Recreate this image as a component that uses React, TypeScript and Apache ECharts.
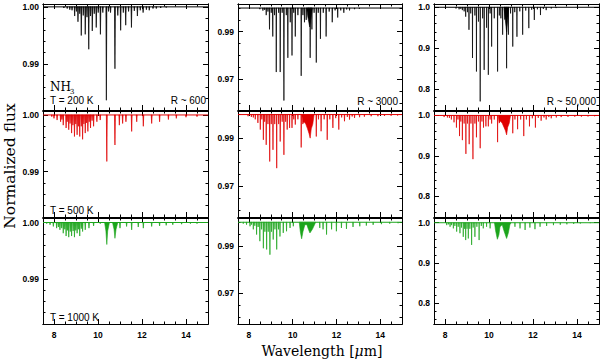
import { useEffect, useRef } from "react";
import * as echarts from "echarts";

// ---------- axis values ----------
const xRange = [7.5, 15];
const xMajorTicks = [8, 10, 12, 14];
const xMinorTicks = [8.5, 9, 9.5, 10.5, 11, 11.5, 12.5, 13, 13.5, 14.5];

const yMinByCol = [0.982, 0.957, 0.749];
const yMaxByPanel = [
  [1.0005, 1.0017, 1.008],
  [1.0007, 1.0015, 1.011],
  [1.0008, 1.0018, 1.0117],
];
const yMajorCol1 = [0.99, 1.0];
const yMinorCol1 = [0.982, 0.984, 0.986, 0.988, 0.992, 0.994, 0.996, 0.998];
const yMajorCol2 = [0.97, 0.99];
const yMinorCol2 = [0.96, 0.965, 0.975, 0.98, 0.985, 0.995, 1.0];
const yMajorCol3 = [0.8, 0.9, 1.0];
const yMinorCol3 = [0.76, 0.78, 0.82, 0.84, 0.86, 0.88, 0.92, 0.94, 0.96, 0.98];
const yDecimals = [2, 2, 1];

const continuum = [[7.5, 1], [15, 1]];

// ---------- absorption lines: [wavelength (um), depth] ----------
const black600 = [[8.45,0.0002],[8.6,0.0003],[8.72,0.0005],[8.82,0.0006],[8.94,0.0016],[9.02,0.0008],[9.09,0.0026],[9.17,0.0012],[9.24,0.005],[9.33,0.0015],[9.42,0.0048],[9.5,0.0018],[9.58,0.0074],[9.66,0.0016],[9.74,0.0042],[9.83,0.0012],[9.92,0.0036],[10.01,0.001],[10.11,0.0048],[10.22,0.001],[10.38,0.0163],[10.48,0.0008],[10.57,0.001],[10.77,0.0108],[10.9,0.0015],[11.03,0.0041],[11.15,0.001],[11.26,0.0032],[11.39,0.0008],[11.52,0.0036],[11.65,0.0007],[11.79,0.0016],[11.92,0.0006],[12.05,0.001],[12.2,0.0005],[12.33,0.0006],[12.5,0.0003],[12.65,0.0003],[12.85,0.0002],[13.1,0.0001]];
const black3000 = [[8.5,0.0005],[8.64,0.0011],[8.72,0.0008],[8.79,0.003],[8.87,0.0015],[8.94,0.009],[9.02,0.002],[9.09,0.012],[9.17,0.003],[9.25,0.027],[9.36,0.002],[9.43,0.027],[9.52,0.002],[9.6,0.039],[9.71,0.003],[9.78,0.021],[9.89,0.006],[9.97,0.02],[10.05,0.002],[10.12,0.012],[10.24,0.003],[10.39,0.0286],[10.47,0.003],[10.54,0.006],[10.62,0.005],[10.72,0.004],[10.8,0.021],[10.88,0.009],[10.98,0.002],[11.08,0.023],[11.17,0.002],[11.27,0.013],[11.4,0.002],[11.53,0.012],[11.67,0.0015],[11.81,0.006],[11.94,0.001],[12.06,0.004],[12.2,0.001],[12.34,0.002],[12.47,0.0006],[12.6,0.001],[12.83,0.0005],[13.05,0.0003]];
const black50000 = [[8.5,0.003],[8.64,0.005],[8.72,0.004],[8.79,0.007],[8.87,0.01],[8.94,0.023],[9.02,0.012],[9.09,0.055],[9.17,0.015],[9.25,0.124],[9.36,0.02],[9.43,0.157],[9.52,0.035],[9.6,0.23],[9.71,0.027],[9.78,0.153],[9.89,0.05],[9.97,0.165],[10.05,0.015],[10.12,0.096],[10.24,0.027],[10.39,0.157],[10.47,0.02],[10.54,0.027],[10.62,0.067],[10.72,0.03],[10.8,0.149],[10.88,0.067],[10.98,0.015],[11.08,0.096],[11.17,0.012],[11.27,0.072],[11.4,0.01],[11.53,0.067],[11.67,0.008],[11.81,0.051],[11.94,0.006],[12.06,0.031],[12.2,0.005],[12.34,0.019],[12.47,0.004],[12.6,0.007],[12.83,0.003],[13.05,0.002]];

const red600 = [[7.9,0.0003],[8.0,0.0006],[8.14,0.0009],[8.3,0.0012],[8.36,0.0008],[8.42,0.0018],[8.55,0.0023],[8.6,0.0012],[8.67,0.0026],[8.73,0.0015],[8.8,0.0032],[8.86,0.0018],[8.93,0.0038],[8.99,0.0016],[9.05,0.0035],[9.11,0.002],[9.17,0.0038],[9.24,0.002],[9.3,0.0043],[9.36,0.0016],[9.42,0.0032],[9.48,0.0014],[9.54,0.0029],[9.6,0.0012],[9.66,0.0023],[9.73,0.001],[9.8,0.002],[9.95,0.0012],[10.1,0.0009],[10.4,0.0082],[10.77,0.0053],[10.97,0.0018],[11.12,0.0015],[11.27,0.0012],[11.53,0.0029],[11.76,0.0012],[12.06,0.002],[12.44,0.0015],[12.8,0.0012],[13.2,0.0008],[13.56,0.0006],[14.0,0.0004],[14.5,0.0003]];
const red3000 = [[7.96,0.0007],[8.11,0.001],[8.2,0.0012],[8.29,0.002],[8.41,0.0035],[8.52,0.0063],[8.59,0.002],[8.66,0.0106],[8.72,0.003],[8.79,0.0127],[8.87,0.004],[8.95,0.0197],[9.02,0.004],[9.1,0.0148],[9.18,0.004],[9.27,0.0225],[9.36,0.004],[9.43,0.0113],[9.52,0.003],[9.6,0.0169],[9.68,0.003],[9.75,0.0063],[9.86,0.0056],[9.97,0.0056],[10.05,0.002],[10.12,0.0042],[10.24,0.002],[10.39,0.0138],[11.08,0.0092],[11.18,0.002],[11.3,0.007],[11.44,0.002],[11.58,0.0106],[11.7,0.002],[11.84,0.0056],[11.97,0.0015],[12.11,0.0063],[12.24,0.0012],[12.37,0.0028],[12.5,0.001],[12.6,0.0021],[12.72,0.0008],[12.83,0.0014],[13.06,0.0011],[13.28,0.0009],[13.59,0.0007],[13.9,0.0007],[14.2,0.0006],[14.5,0.0005],[14.8,0.0004]];
const red50000 = [[7.96,0.004],[8.11,0.005],[8.2,0.006],[8.29,0.01],[8.41,0.017],[8.52,0.03],[8.59,0.01],[8.66,0.051],[8.72,0.015],[8.79,0.061],[8.87,0.02],[8.95,0.095],[9.02,0.02],[9.1,0.071],[9.18,0.02],[9.27,0.108],[9.36,0.02],[9.43,0.054],[9.52,0.015],[9.6,0.081],[9.68,0.015],[9.75,0.03],[9.86,0.027],[9.97,0.027],[10.05,0.01],[10.12,0.02],[10.24,0.01],[10.39,0.066],[11.08,0.044],[11.18,0.01],[11.3,0.034],[11.44,0.01],[11.58,0.051],[11.7,0.01],[11.84,0.027],[11.97,0.007],[12.11,0.03],[12.24,0.006],[12.37,0.013],[12.5,0.005],[12.6,0.01],[12.72,0.004],[12.83,0.007],[13.06,0.005],[13.28,0.004],[13.59,0.0035],[13.9,0.003],[14.2,0.003],[14.5,0.0025],[14.8,0.002]];

const green600 = [[7.67,0.0002],[7.82,0.0004],[7.97,0.0007],[8.12,0.001],[8.2,0.0008],[8.27,0.0013],[8.35,0.001],[8.42,0.0019],[8.49,0.0012],[8.55,0.0024],[8.61,0.0014],[8.67,0.0026],[8.74,0.0016],[8.8,0.0024],[8.87,0.0015],[8.93,0.0026],[8.99,0.0014],[9.05,0.0019],[9.11,0.0012],[9.17,0.0024],[9.24,0.0011],[9.3,0.0016],[9.42,0.0013],[9.59,0.001],[9.8,0.0006],[10.1,0.0002],[11.0,0.001],[11.3,0.0007],[11.53,0.0013],[11.83,0.0008],[12.06,0.001],[12.44,0.0007],[12.8,0.0006],[13.1,0.0005],[13.4,0.0004],[13.8,0.0003],[14.2,0.0002],[14.5,0.0002]];
const green3000 = [[7.74,0.0006],[7.89,0.001],[8.05,0.0017],[8.12,0.001],[8.2,0.003],[8.27,0.0015],[8.35,0.0052],[8.42,0.002],[8.5,0.008],[8.58,0.003],[8.66,0.011],[8.73,0.004],[8.81,0.0115],[8.88,0.004],[8.96,0.0137],[9.03,0.004],[9.11,0.0073],[9.19,0.003],[9.27,0.0115],[9.35,0.003],[9.42,0.006],[9.57,0.0045],[9.72,0.0038],[9.88,0.0024],[10.03,0.0017],[11.24,0.0024],[11.39,0.003],[11.55,0.0052],[11.78,0.003],[12.0,0.0038],[12.23,0.0024],[12.46,0.0028],[12.76,0.002],[13.07,0.0017],[13.37,0.0014],[13.68,0.0011],[14.06,0.0008],[14.44,0.0006],[14.82,0.0004]];
const green50000 = [[8.08,0.006],[8.16,0.004],[8.23,0.01],[8.3,0.006],[8.38,0.014],[8.45,0.008],[8.53,0.022],[8.6,0.01],[8.68,0.026],[8.75,0.012],[8.83,0.035],[8.89,0.015],[8.94,0.043],[9.0,0.015],[9.06,0.039],[9.13,0.015],[9.21,0.055],[9.28,0.012],[9.36,0.035],[9.45,0.01],[9.55,0.043],[9.65,0.008],[9.74,0.014],[9.89,0.01],[10.05,0.014],[11.18,0.01],[11.41,0.014],[11.64,0.018],[11.86,0.012],[12.09,0.016],[12.32,0.01],[12.62,0.008],[12.93,0.006],[13.24,0.005],[13.54,0.004],[13.85,0.003],[14.15,0.002],[14.6,0.001]];

// ---------- Q-branch blended envelopes: [wavelength, depth] ----------
const blackBand600: number[][] = [];
const blackBand3000 = [[10.64,0],[10.7,0.004],[10.78,0.008],[10.84,0.004],[10.9,0]];
const blackBand50000 = [[10.68,0],[10.74,0.03],[10.8,0.06],[10.85,0.03],[10.9,0]];
const redBand600: number[][] = [];
const redBand3000 = [[10.42,0],[10.46,0.004],[10.52,0.003],[10.6,0.004],[10.68,0.006],[10.75,0.008],[10.8,0.0099],[10.85,0.006],[10.92,0.004],[10.98,0]];
const redBand50000 = [[10.42,0],[10.46,0.019],[10.52,0.014],[10.6,0.019],[10.68,0.029],[10.75,0.038],[10.8,0.048],[10.85,0.029],[10.92,0.019],[10.98,0]];
const greenBand600 = [[10.3,0],[10.36,0.0015],[10.4,0.0039],[10.44,0.0015],[10.52,0],[10.66,0],[10.73,0.0012],[10.77,0.0028],[10.82,0.0012],[10.9,0]];
const greenBand3000 = [[10.3,0],[10.35,0.004],[10.41,0.007],[10.47,0.004],[10.56,0.001],[10.65,0.001],[10.72,0.003],[10.79,0.0045],[10.9,0.003],[11.0,0.001],[11.05,0]];
const greenBand50000 = [[10.25,0],[10.3,0.02],[10.38,0.041],[10.45,0.03],[10.5,0.01],[10.6,0.005],[10.68,0.02],[10.8,0.039],[10.88,0.025],[10.95,0.005],[11.0,0]];

const panelLines = [
  [black600, black3000, black50000],
  [red600, red3000, red50000],
  [green600, green3000, green50000],
];
const panelBands = [
  [blackBand600, blackBand3000, blackBand50000],
  [redBand600, redBand3000, redBand50000],
  [greenBand600, greenBand3000, greenBand50000],
];

// ---------- styling ----------
const rowColors = ["#000000", "#e00000", "#1ca51c"];
const colLeft = [43, 238, 434];
const colWidth = [165, 164, 165];
const rowTop = [4, 111, 218];
const rowHeight = 106;
const spikeHalfWidth = [0.02, 0.012, 0.006];
const tickFont = "Liberation Sans, Arial, sans-serif";
const serif = "DejaVu Serif, serif";

function buildOption() {
  const grid: any[] = [];
  const xAxis: any[] = [];
  const yAxis: any[] = [];
  const series: any[] = [];

  for (let r = 0; r < 3; r++) {
    for (let c = 0; c < 3; c++) {
      const g = r * 3 + c;
      grid.push({ left: colLeft[c], top: rowTop[r], width: colWidth[c], height: rowHeight, containLabel: false });
      const yMin = yMinByCol[c];
      const yMax = yMaxByPanel[r][c];
      const yMajor = [yMajorCol1, yMajorCol2, yMajorCol3][c];
      const yMinor = [yMinorCol1, yMinorCol2, yMinorCol3][c];
      const dec = yDecimals[c];
      const line = { show: true, onZero: false, lineStyle: { color: "#000", width: 1 } };

      const mkX = (pos: string, ticks: number[], len: number, labels: boolean) => ({
        type: "value", gridIndex: g, position: pos, min: xRange[0], max: xRange[1],
        axisLine: line, splitLine: { show: false },
        axisTick: { show: true, inside: true, length: len, customValues: ticks, lineStyle: { color: "#000", width: 1 } },
        axisLabel: labels
          ? { show: true, customValues: ticks, margin: 6, fontSize: 8.5, fontWeight: "bold", color: "#000", fontFamily: tickFont, formatter: (v: number) => String(v) }
          : { show: false },
      });
      xAxis.push(mkX("bottom", xMajorTicks, 5, r === 2));
      xAxis.push(mkX("bottom", xMinorTicks, 2.5, false));
      xAxis.push(mkX("top", xMajorTicks, 5, false));
      xAxis.push(mkX("top", xMinorTicks, 2.5, false));

      const mkY = (pos: string, ticks: number[], len: number, labels: boolean) => ({
        type: "value", gridIndex: g, position: pos, min: yMin, max: yMax, scale: true,
        axisLine: line, splitLine: { show: false },
        axisTick: { show: true, inside: true, length: len, customValues: ticks, lineStyle: { color: "#000", width: 1 } },
        axisLabel: labels
          ? { show: true, customValues: ticks, margin: 4, fontSize: 8.5, fontWeight: "bold", color: "#000", fontFamily: tickFont, formatter: (v: number) => v.toFixed(dec) }
          : { show: false },
      });
      yAxis.push(mkY("left", yMajor, 5, true));
      yAxis.push(mkY("left", yMinor, 2.5, false));
      yAxis.push(mkY("right", yMajor, 5, false));
      yAxis.push(mkY("right", yMinor, 2.5, false));

      const color = rowColors[r];
      const hw = spikeHalfWidth[c];
      const band = panelBands[r][c];

      if (band.length) {
        series.push({
          type: "custom", xAxisIndex: g * 4, yAxisIndex: g * 4, clip: true, silent: true,
          data: band,
          renderItem: (params: any, api: any) => {
            if (params.dataIndex !== 0) return null;
            const pts = band.map((p) => api.coord([p[0], 1 - p[1]]));
            return { type: "polygon", shape: { points: pts }, style: { fill: color, stroke: color, lineWidth: 0.6 } };
          },
        });
      }

      series.push({
        type: "custom", xAxisIndex: g * 4, yAxisIndex: g * 4, clip: true, silent: true,
        data: panelLines[r][c],
        renderItem: (_params: any, api: any) => {
          const w = api.value(0);
          const d = api.value(1);
          const a = api.coord([w - hw, 1]);
          const b = api.coord([w, 1 - d]);
          const e = api.coord([w + hw, 1]);
          return { type: "polygon", shape: { points: [a, b, e] }, style: { fill: color, stroke: color, lineWidth: 0.7 } };
        },
      });

      series.push({
        type: "line", xAxisIndex: g * 4, yAxisIndex: g * 4, data: continuum, symbol: "none", silent: true,
        lineStyle: { color, width: 1 },
      });
    }
  }

  const annFont = "Liberation Sans, Arial, sans-serif";
  const txt = (x: number, y: number, text: string, align: string) => ({
    type: "text", x, y, silent: true,
    style: { text, fill: "#000", fontFamily: annFont, fontSize: 10, align, verticalAlign: "middle" },
  });

  const graphic = [
    { type: "text", x: 50, y: 87, silent: true, style: { text: "NH", fill: "#000", fontFamily: serif, fontSize: 12, align: "left", verticalAlign: "middle" } },
    { type: "text", x: 70, y: 91.5, silent: true, style: { text: "3", fill: "#000", fontFamily: serif, fontSize: 7, align: "left", verticalAlign: "middle" } },
    txt(50, 100.5, "T = 200 K", "left"),
    txt(206, 100.5, "R ~ 600", "right"),
    txt(398, 101, "R ~ 3000", "right"),
    txt(596, 101, "R ~ 50,000", "right"),
    txt(50, 210, "T = 500 K", "left"),
    txt(50, 317, "T = 1000 K", "left"),
    {
      type: "text", x: 10, y: 166, rotation: Math.PI / 2, silent: true,
      style: { text: "Normalized flux", fill: "#000", fontFamily: serif, fontSize: 15.5, align: "center", verticalAlign: "middle" },
    },
    {
      type: "text", x: 322, y: 351, silent: true,
      style: {
        text: "{n|Wavelength [}{i|\u03bc}{n|m]}",
        fill: "#000", fontFamily: serif, fontSize: 14, align: "center", verticalAlign: "middle",
        rich: {
          n: { fontFamily: serif, fontSize: 14, fill: "#000" },
          i: { fontFamily: serif, fontSize: 14, fontStyle: "italic", fill: "#000" },
        },
      },
    },
  ];

  return { animation: false, backgroundColor: "#ffffff", grid, xAxis, yAxis, series, graphic };
}

export default function App() {
  const ref = useRef<HTMLDivElement>(null);
  useEffect(() => {
    if (!ref.current) return;
    const chart = echarts.init(ref.current, null, { renderer: "svg" });
    chart.setOption(buildOption() as any);
    return () => chart.dispose();
  }, []);
  return <div ref={ref} style={{ position: "fixed", left: 0, top: 0, width: 600, height: 360 }} />;
}
